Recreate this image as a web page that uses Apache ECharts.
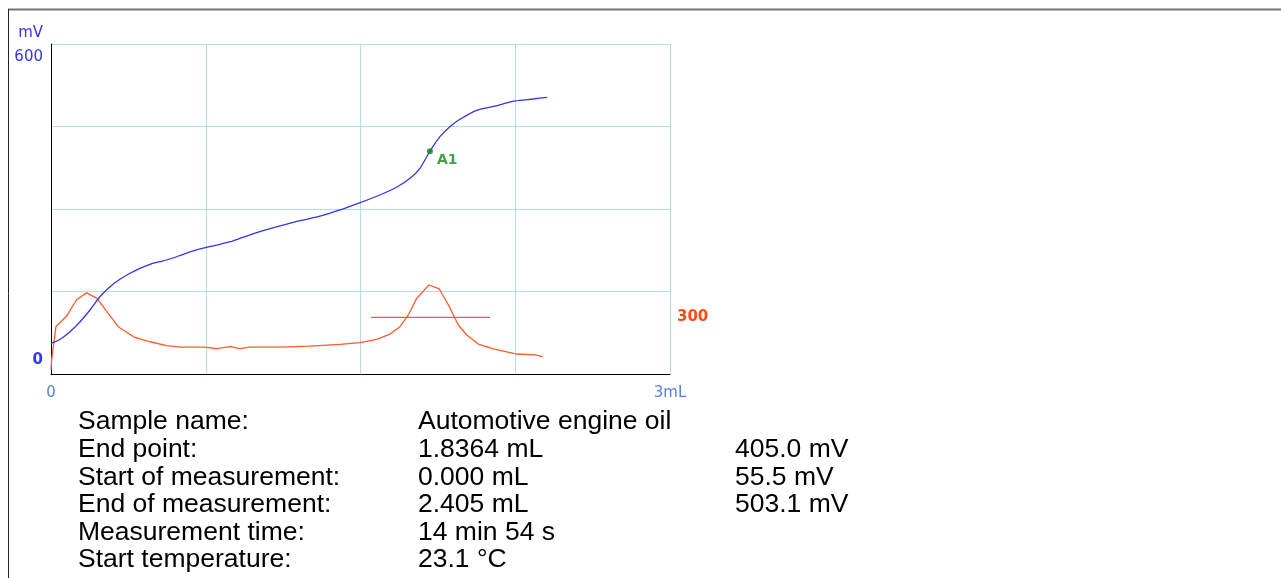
<!DOCTYPE html>
<html>
<head>
<meta charset="utf-8">
<script src="https://cdn.jsdelivr.net/npm/echarts@6/dist/echarts.min.js"></script>
<style>
  html, body { margin: 0; padding: 0; background: #fff; }
  #chart { width: 1281px; height: 578px; }
</style>
</head>
<body>
<div id="chart"></div>
<script>
// titration curve (mL, mV)
const curveVol = [0, 0.044, 0.092, 0.141, 0.189, 0.237, 0.286, 0.334, 0.383, 0.431, 0.480, 0.528, 0.577, 0.641, 0.706, 0.748, 0.803, 0.868, 0.916, 1.013, 1.110, 1.207, 1.304, 1.401, 1.498, 1.594, 1.675, 1.740, 1.788, 1.8364, 1.885, 1.933, 1.982, 2.063, 2.144, 2.249, 2.337, 2.405];
const curveMv = [55.5, 63.1, 76.9, 95.1, 116.4, 140.5, 158.7, 172.2, 183.1, 192.2, 199.5, 204.2, 209.1, 217.6, 225.5, 229.6, 234.5, 240.5, 246.7, 258.7, 269.1, 278.7, 287.0, 298.2, 311.5, 325.5, 339.5, 355.8, 374.0, 405.0, 431.5, 449.6, 463.1, 479.5, 486.5, 496.4, 500.0, 503.1];

// first derivative (right scale)
const derivVol = [0, 0.003, 0.024, 0.076, 0.125, 0.173, 0.223, 0.276, 0.326, 0.402, 0.480, 0.561, 0.625, 0.746, 0.803, 0.868, 0.916, 0.964, 1.110, 1.255, 1.401, 1.498, 1.579, 1.643, 1.691, 1.732, 1.772, 1.832, 1.882, 1.926, 1.974, 2.015, 2.071, 2.144, 2.257, 2.346, 2.383];
const derivVal = [21, 74, 252, 308, 395, 430, 401, 323, 251, 196, 171, 150, 143, 142, 134, 145, 134, 142, 143, 148, 157, 166, 184, 212, 251, 313, 401, 472, 451, 366, 260, 207, 159, 133, 106, 101, 92];

// recognition threshold
const thresholdVol = [1.551, 2.128];
const thresholdVal = 300;

// end point
const endPoint = { name: 'A1', vol: 1.8364, mv: 405.0 };

// report lines
const infoLabels = ['Sample name:', 'End point:', 'Start of measurement:', 'End of measurement:', 'Measurement time:', 'Start temperature:'];
const infoValues = ['Automotive engine oil', '1.8364 mL', '0.000 mL', '2.405 mL', '14 min 54 s', '23.1 °C'];
const infoExtra = ['', '405.0 mV', '55.5 mV', '503.1 mV', '', ''];

const chart = echarts.init(document.getElementById('chart'));

const gridColor = '#b2dfe6';
const infoFont = '26.5px "Liberation Sans", Arial, sans-serif';
const rowY = i => 422 + i * 27.6;

const graphic = [
  { type: 'line', shape: { x1: 8, y1: 9.5, x2: 1281, y2: 9.5 }, style: { stroke: '#777', lineWidth: 2 } },
  { type: 'line', shape: { x1: 8.5, y1: 9, x2: 8.5, y2: 578 }, style: { stroke: '#222', lineWidth: 1 } }
];
infoLabels.forEach((t, i) => {
  graphic.push({ type: 'text', x: 78, y: rowY(i), style: { text: t, font: infoFont, fill: '#000', verticalAlign: 'middle' } });
  graphic.push({ type: 'text', x: 418, y: rowY(i), style: { text: infoValues[i], font: infoFont, fill: '#000', verticalAlign: 'middle' } });
  if (infoExtra[i]) {
    graphic.push({ type: 'text', x: 735, y: rowY(i), style: { text: infoExtra[i], font: infoFont, fill: '#000', verticalAlign: 'middle' } });
  }
});

const option = {
  backgroundColor: '#fff',
  animation: false,
  grid: { left: 51, top: 44, width: 619, height: 330 },
  xAxis: {
    type: 'value',
    min: 0,
    max: 3,
    interval: 0.75,
    axisLine: { lineStyle: { color: '#000', width: 1 } },
    axisTick: { show: false },
    splitLine: { show: true, lineStyle: { color: gridColor, width: 1 } },
    axisLabel: {
      color: '#5b7fd8',
      fontFamily: 'DejaVu Sans',
      fontSize: 15,
      margin: 12,
      formatter: v => v === 0 ? '0' : (v === 3 ? '3mL' : '')
    }
  },
  yAxis: [
    {
      type: 'value',
      min: 0,
      max: 600,
      interval: 150,
      name: 'mV',
      nameLocation: 'end',
      nameGap: 3,
      nameTextStyle: { color: '#3434ee', fontFamily: 'DejaVu Sans', fontSize: 15, align: 'right', padding: [0, 8, 0, 0] },
      axisLine: { show: true, lineStyle: { color: '#000', width: 1 } },
      axisTick: { show: false },
      splitLine: { show: true, lineStyle: { color: gridColor, width: 1 } },
      axisLabel: {
        margin: 8,
        formatter: v => v === 600 ? '{top|600}' : (v === 0 ? '{bot|0}' : ''),
        rich: {
          top: { color: '#3434ee', fontFamily: 'DejaVu Sans', fontSize: 15, padding: [26, 0, 0, 0] },
          bot: { color: '#3434ee', fontFamily: 'DejaVu Sans', fontSize: 15, fontWeight: 'bold', padding: [0, 0, 28, 0] }
        }
      }
    },
    {
      type: 'value',
      position: 'right',
      min: 0,
      max: 1750,
      interval: 300,
      axisLine: { show: false },
      axisTick: { show: false },
      splitLine: { show: false },
      axisLabel: {
        margin: 7,
        color: '#ff4a12',
        fontFamily: 'DejaVu Sans',
        fontSize: 15,
        fontWeight: 'bold',
        formatter: v => v === thresholdVal ? String(thresholdVal) : ''
      }
    }
  ],
  series: [
    {
      name: 'Derivative',
      type: 'line',
      yAxisIndex: 1,
      data: derivVol.map((x, i) => [x, derivVal[i]]),
      showSymbol: false,
      lineStyle: { color: '#ff5a2a', width: 1.3 },
      z: 2
    },
    {
      name: 'Threshold',
      type: 'line',
      yAxisIndex: 1,
      data: thresholdVol.map(x => [x, thresholdVal]),
      showSymbol: false,
      lineStyle: { color: '#ff5a2a', width: 1.3 },
      z: 2
    },
    {
      name: 'Potential',
      type: 'line',
      yAxisIndex: 0,
      data: curveVol.map((x, i) => [x, curveMv[i]]),
      showSymbol: false,
      smooth: 0.25,
      lineStyle: { color: '#3434ee', width: 1.3 },
      z: 3
    },
    {
      name: 'End point',
      type: 'scatter',
      yAxisIndex: 0,
      data: [[endPoint.vol, endPoint.mv]],
      symbolSize: 6,
      itemStyle: { color: '#0b800b' },
      label: {
        show: true,
        position: 'right',
        distance: 4,
        offset: [0, 9],
        formatter: endPoint.name,
        color: '#138a13',
        fontFamily: 'DejaVu Sans',
        fontSize: 14,
        fontWeight: 'bold'
      },
      z: 4
    }
  ],
  graphic: graphic
};

chart.setOption(option);
</script>
</body>
</html>
